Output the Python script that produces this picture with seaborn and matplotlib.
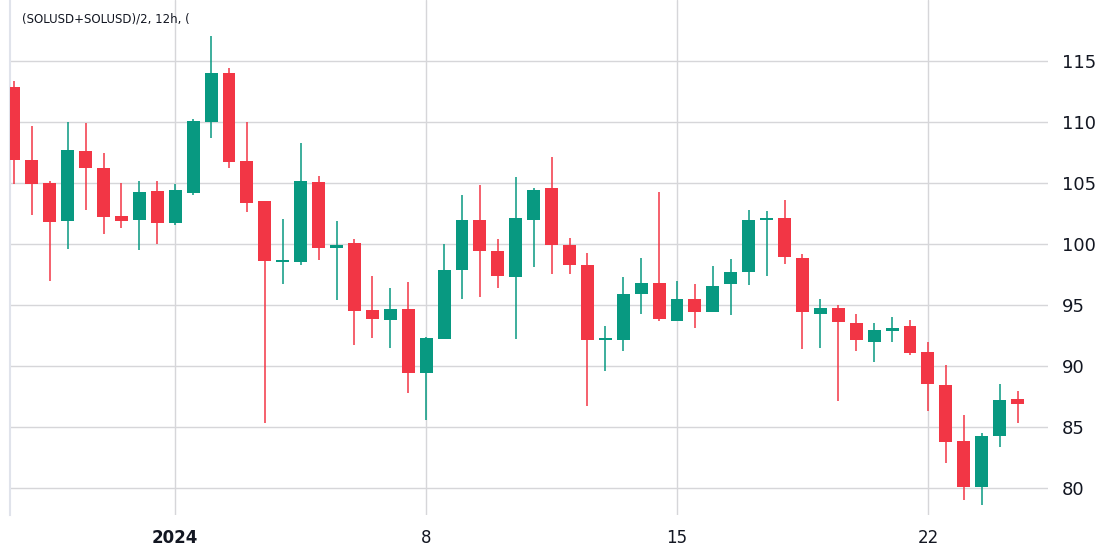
import numpy as np
import pandas as pd
import matplotlib
matplotlib.use("Agg")
import matplotlib.pyplot as plt
import seaborn as sns

# 12h candles, (SOLUSD+SOLUSD)/2, from 2023-12-27 12:00
opens = [112.9, 106.9, 105.0, 101.9, 107.6, 106.25, 102.3, 102.0, 104.35, 101.75,
         104.2, 110.0, 114.0, 106.8, 103.5, 98.55, 98.55, 105.1, 99.7, 100.1,
         94.6, 93.8, 94.7, 89.4, 92.25, 97.9, 102.0, 99.4, 97.3, 102.0,
         104.6, 99.9, 98.3, 92.15, 92.15, 95.9, 96.8, 93.7, 95.5, 94.4,
         96.75, 97.75, 101.95, 102.15, 98.9, 94.3, 94.75, 93.5, 92.0, 92.9,
         93.3, 91.15, 88.45, 83.85, 80.1, 84.3, 87.3]
highs = [113.4, 109.7, 105.2, 110.0, 109.9, 107.5, 105.0, 105.2, 105.2, 104.9,
         110.25, 117.05, 114.4, 110.0, 103.5, 102.05, 108.3, 105.6, 101.9, 100.4,
         97.4, 96.4, 96.9, 92.4, 100.0, 104.0, 104.8, 100.4, 105.5, 104.6,
         107.1, 100.5, 99.3, 93.3, 97.3, 98.85, 104.3, 97.0, 96.7, 98.2,
         98.8, 102.8, 102.7, 103.6, 99.2, 95.5, 95.0, 94.3, 93.5, 94.0,
         93.8, 92.0, 90.1, 86.0, 84.5, 88.5, 88.0]
lows = [104.9, 102.4, 97.0, 99.6, 102.8, 100.8, 101.3, 99.5, 100.0, 101.6,
        104.0, 108.7, 106.2, 102.6, 85.3, 96.75, 98.3, 98.7, 95.4, 91.7,
        92.3, 91.5, 87.8, 85.6, 92.25, 95.5, 95.7, 96.4, 92.2, 98.1,
        97.55, 97.55, 86.7, 89.6, 91.2, 94.3, 93.7, 93.7, 93.1, 94.4,
        94.2, 96.65, 97.4, 98.4, 91.4, 91.5, 87.15, 91.2, 90.35, 92.0,
        90.9, 86.3, 82.1, 79.0, 78.6, 83.4, 85.3]
closes = [106.9, 104.95, 101.8, 107.7, 106.25, 102.2, 101.9, 104.3, 101.75, 104.4,
          110.1, 114.0, 106.75, 103.4, 98.6, 98.6, 105.15, 99.7, 99.9, 94.5,
          93.85, 94.7, 89.45, 92.3, 97.9, 102.0, 99.4, 97.4, 102.1, 104.4,
          99.9, 98.3, 92.1, 92.2, 95.9, 96.8, 93.9, 95.5, 94.4, 96.6,
          97.7, 102.0, 102.1, 98.9, 94.4, 94.75, 93.65, 92.1, 92.95, 93.1,
          91.1, 88.5, 83.8, 80.1, 84.3, 87.2, 86.9]

date_tick_pos = [9, 23, 37, 51]
date_tick_labels = ["2024", "8", "15", "22"]
price_ticks = [80, 85, 90, 95, 100, 105, 110, 115]

df = pd.DataFrame({"open": opens, "high": highs, "low": lows, "close": closes})
df["idx"] = np.arange(len(df))
df["up"] = df["close"] >= df["open"]

UP, DOWN = "#089981", "#F23645"

sns.set_style("white", {"grid.color": "#d6d6d9"})
fig = plt.figure(figsize=(11.09, 5.51), dpi=100)
ax = fig.add_axes([10 / 1109, 36 / 551, 1038 / 1109, 515 / 551])

colors = np.where(df["up"], UP, DOWN)
ax.vlines(df["idx"], df["low"], df["high"], colors=colors, linewidth=1.1, zorder=2)
body_lo = np.minimum(df["open"], df["close"])
body_h = np.maximum(np.abs(df["close"] - df["open"]), 0.15)
ax.bar(df["idx"], body_h, bottom=body_lo, width=0.72, color=colors, linewidth=0, zorder=3)

ax.set_xlim(-0.22, 57.7)
ax.set_ylim(77.8, 120.0)
ax.set_xticks(date_tick_pos)
ax.set_xticklabels(date_tick_labels, fontsize=12, color="#131722")
ax.get_xticklabels()[0].set_fontweight("bold")
ax.set_yticks(price_ticks)
ax.yaxis.tick_right()
ax.set_yticklabels([str(t) for t in price_ticks], fontsize=13, color="#131722")
ax.tick_params(length=0, pad=10)
ax.tick_params(axis="x", pad=10)
ax.grid(True, color="#d6d6d9", linewidth=1)
for s in ["top", "right", "bottom"]:
    ax.spines[s].set_visible(False)
ax.spines["left"].set_color("#e0e3eb")
ax.spines["left"].set_linewidth(1.5)

ax.text(0.012, 0.975, "(SOLUSD+SOLUSD)/2, 12h, (", transform=ax.transAxes,
        fontsize=8.5, color="#131722", va="top", ha="left")

fig.savefig("out.png", dpi=100)
